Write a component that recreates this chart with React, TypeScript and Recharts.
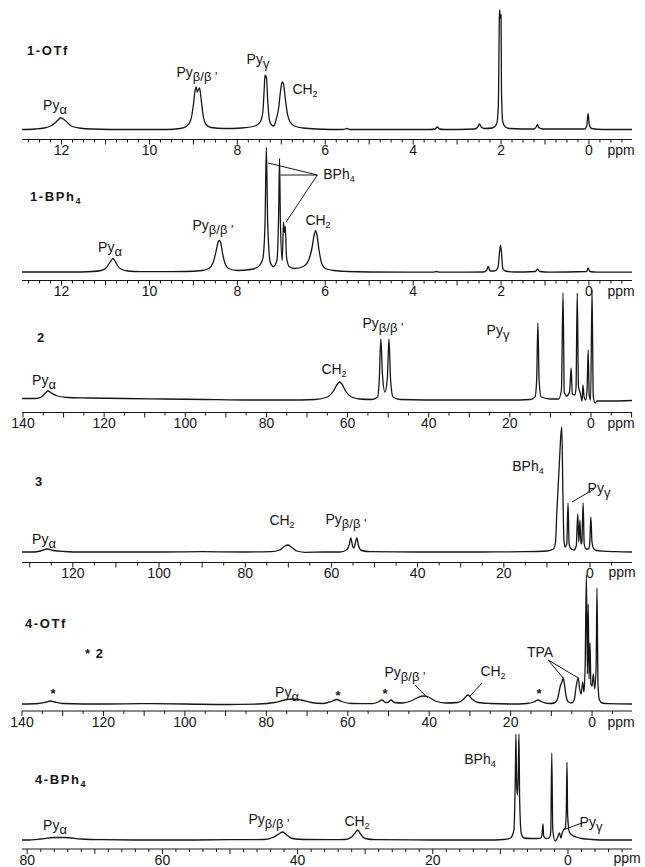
import React from 'react';
import { LineChart, Line, XAxis, YAxis, ReferenceLine } from 'recharts';

const INK = '#161616';
const FONT = '"Liberation Sans", Arial, Helvetica, sans-serif';

type Pt = [number, number];

// spectra as [ppm, intensity], left (high ppm) to right
const SPEC_1OTF: Pt[] = [
  [12.9, 0.5], [12.6, 1], [12.4, 2], [12.25, 4], [12.15, 7], [12.08, 10], [12.02, 12], [11.96, 11],
  [11.88, 8], [11.78, 4], [11.6, 2], [11.3, 1], [10.5, 0.5], [9.6, 0.5],
  [9.3, 1.5], [9.15, 4], [9.06, 10], [9.0, 25], [8.96, 40], [8.94, 43], [8.91, 38], [8.88, 41],
  [8.86, 42], [8.83, 33], [8.78, 15], [8.72, 6], [8.6, 2.5], [8.3, 1.5], [7.9, 2],
  [7.6, 4], [7.48, 8], [7.42, 18], [7.39, 40], [7.37, 55], [7.35, 52], [7.34, 54], [7.31, 30],
  [7.27, 10], [7.22, 5], [7.17, 4],
  [7.12, 10], [7.06, 22], [7.02, 38], [6.98, 48], [6.95, 46], [6.91, 32], [6.86, 16], [6.8, 8],
  [6.7, 4], [6.5, 2], [6.2, 1], [5.6, 0.5], [5.5, 1.5], [5.45, 0.5],
  [3.6, 0.5], [3.5, 1], [3.45, 3], [3.4, 1], [3.3, 0.5],
  [2.6, 1], [2.53, 3], [2.49, 6], [2.45, 3], [2.38, 1.5],
  [2.2, 2], [2.1, 6], [2.06, 25], [2.04, 110], [2.03, 120], [2.02, 112], [2.0, 115], [1.99, 40],
  [1.96, 8], [1.9, 3], [1.8, 1.5],
  [1.25, 1], [1.2, 3], [1.17, 5.5], [1.14, 2.5], [1.05, 1],
  [0.1, 1], [0.05, 4], [0.02, 16.5], [-0.01, 5], [-0.06, 1.5], [-0.3, 0.5], [-0.98, 0.5],
];

const SPEC_1BPH4: Pt[] = [
  [12.9, 0.5], [11.8, 0.5], [11.3, 1], [11.1, 2], [11.0, 4], [10.93, 8], [10.87, 12], [10.83, 14],
  [10.79, 12], [10.73, 7], [10.65, 3.5], [10.5, 1.5], [10.2, 0.8], [9.2, 1],
  [8.8, 2], [8.65, 4], [8.55, 10], [8.48, 22], [8.44, 30], [8.41, 32], [8.38, 30], [8.34, 20],
  [8.28, 9], [8.2, 4], [8.0, 2], [7.7, 3], [7.52, 6], [7.42, 14], [7.37, 50], [7.34, 125],
  [7.31, 50], [7.25, 10], [7.18, 6], [7.1, 12], [7.06, 60], [7.04, 114], [7.02, 50], [6.98, 12],
  [6.95, 50], [6.93, 40], [6.91, 46], [6.88, 15], [6.82, 6], [6.7, 4], [6.5, 6], [6.38, 12],
  [6.3, 25], [6.25, 38], [6.22, 42], [6.19, 38], [6.14, 22], [6.08, 9], [6.0, 4], [5.8, 2],
  [5.5, 1], [5.0, 0.5], [3.55, 0.3], [3.47, 1], [3.4, 0.3], [2.4, 0.5], [2.33, 2], [2.29, 6],
  [2.25, 1.5], [2.15, 1.5], [2.07, 5], [2.03, 22], [2.01, 27], [1.99, 20], [1.96, 4], [1.9, 1.5],
  [1.7, 0.5], [1.22, 1], [1.17, 3.5], [1.12, 1], [0.9, 0.3], [0.05, 1], [0.02, 4.5], [-0.02, 1],
  [-0.2, 0.3], [-0.98, 0.3],
];

const SPEC_2: Pt[] = [
  [140.25, 1.5], [137, 1.5], [135.5, 3], [134.5, 7], [133.8, 9], [133, 7], [131.5, 4], [129, 2.5],
  [124, 2], [115, 1.5], [105, 1], [95, 0.5], [85, 0], [75, 0], [68, 0.5], [65, 3], [63.5, 9],
  [62.5, 16], [62, 18], [61.4, 16], [60.5, 9], [59, 3], [57, 1], [54, 0.5], [52.6, 3], [52.2, 20],
  [51.8, 61], [51.4, 25], [50.8, 8], [50.2, 22], [49.8, 61], [49.4, 20], [48.8, 3], [47, 0.5],
  [35, 0], [20, 0], [15, 0.5], [13.8, 3], [13.4, 20], [13.1, 77], [12.8, 20], [12.3, 3], [10, 1],
  [8, 1], [7.3, 10], [6.9, 107], [6.6, 8], [6.0, 4], [5.3, 8], [4.9, 32], [4.6, 6], [4.0, 5],
  [3.7, 12], [3.4, 107], [3.1, 14], [2.6, 6], [2.4, 2], [2.2, -1], [2.0, 15], [1.7, 3], [1.3, 0],
  [1.0, 8], [0.7, 50], [0.45, 5], [0.1, 0], [-0.25, 110], [-0.55, 4], [-1.0, -3], [-1.5, -1],
  [-4, -1], [-10.1, -0.5],
];

const SPEC_3: Pt[] = [
  [131.8, 0], [129, 0], [127.5, 1], [126, 3], [124.5, 1.5], [122, 0.5], [118, 0], [100, 0],
  [90, 0.3], [80, 0], [74, 0.3], [72, 2], [70.8, 6], [70.1, 7], [69.3, 5], [68, 1], [66, -0.3],
  [62, 0], [58, 0], [56.5, 2], [55.9, 7], [55.5, 14], [55.1, 6], [54.8, 4], [54.5, 8], [54.1, 14],
  [53.7, 6], [53, 1.5], [51, 0.3], [40, 0], [25, 0], [15, 0.3], [10, 1], [8.5, 3], [8.0, 10],
  [7.7, 40], [7.4, 65], [7.1, 90], [6.8, 115], [6.55, 125], [6.3, 60], [6.05, 12], [5.8, 5],
  [5.4, 8], [5.1, 49], [4.85, 8], [4.4, 3], [3.7, 2], [3.2, 6], [2.85, 38], [2.6, 10], [2.35, 32],
  [2.1, 8], [1.9, 10], [1.6, 49], [1.35, 8], [0.9, 3], [0.3, 3], [0.05, 10], [-0.2, 35],
  [-0.45, 10], [-0.9, 3], [-1.5, 1.5], [-3, 0.8], [-6, 0.3], [-9.74, 0],
];

const SPEC_4OTF: Pt[] = [
  [140, 0], [136, 0.5], [134, 2], [133, 3], [132, 2], [130, 0.5], [120, 0], [110, 0.3], [100, 0],
  [90, -0.5], [82, 0], [78, 1.5], [75.5, 4], [73.5, 5], [71.5, 4], [69, 1.5], [66, 0.5], [64, 2.5],
  [62.7, 4.5], [61.5, 2.5], [59, 0.5], [54, 0.3], [52.5, 2], [51.6, 4], [50.7, 1.5], [50.2, 1.5],
  [49.4, 4], [48.5, 1.5], [46.5, 1], [44.5, 3], [43, 6], [41.5, 8], [40.2, 7], [38.5, 3], [36, 1],
  [33, 1.5], [31.5, 5], [30.5, 9], [29.5, 5], [28, 1.5], [25, 0.5], [20, 0], [16, 0.5], [14.3, 2],
  [13.3, 4], [12.3, 2], [10.5, 0.5], [9.3, 1], [8.5, 5], [7.8, 18], [7.4, 22], [7.1, 26], [6.8, 20],
  [6.4, 8], [5.8, 2], [5.0, 1], [4.4, 4], [3.9, 18], [3.4, 26], [3.1, 16], [2.7, 10], [2.3, 22],
  [2.0, 12], [1.7, 40], [1.4, 129], [1.15, 30], [0.95, 100], [0.75, 25], [0.5, 61], [0.3, 20],
  [0.0, 18], [-0.3, 30], [-0.65, 15], [-1.0, 40], [-1.2, 116], [-1.45, 20], [-1.8, 4], [-2.5, 1],
  [-4, 0.3], [-9.8, 0],
];

const SPEC_4BPH4: Pt[] = [
  [80.77, 0], [80, 0], [78, 1], [76, 2.5], [74.5, 2.5], [72, 1], [69, 0.3], [64, 0], [56, 0],
  [50, 0.3], [45, 0.5], [43.5, 3], [42.8, 6], [42.2, 8], [41.6, 5], [40.8, 1.5], [39, 0.5],
  [35, 0.3], [33, 0.5], [32, 3], [31.5, 7], [31.1, 10], [30.7, 6], [30, 1.5], [28.5, 0.3], [20, 0],
  [12, 0], [9.5, 0.5], [8.5, 2], [8.0, 10], [7.8, 60], [7.7, 106], [7.6, 55], [7.47, 45],
  [7.35, 70], [7.25, 106], [7.15, 40], [6.9, 6], [6.5, 2], [5.5, 1.5], [4.5, 1.5], [4.0, 2],
  [3.8, 8], [3.7, 16], [3.6, 4], [3.3, 1.5], [2.8, 2], [2.55, 8], [2.4, 87], [2.25, 10],
  [1.9, -1], [1.6, 1.5], [1.25, 7], [1.05, 2], [0.85, 7], [0.6, 11], [0.4, 12], [0.25, 30],
  [0.15, 78], [0.05, 25], [-0.2, 8], [-0.6, 5], [-1.2, 3], [-2, 1.5], [-3.5, 0.5], [-6, 0],
  [-9.47, 0],
];

// axis tick labels
const H_LABELS = [12, 10, 8, 6, 4, 2, 0];
const C140_LABELS = [140, 120, 100, 80, 60, 40, 20, 0];
const C120_LABELS = [120, 100, 80, 60, 40, 20, 0];
const C80_LABELS = [80, 60, 40, 20, 0];

function tickRange(lo: number, hi: number, step: number) {
  const out: number[] = [];
  for (let k = Math.ceil(lo / step - 1e-9); k <= Math.floor(hi / step + 1e-9); k++) {
    out.push(+(k * step).toFixed(4));
  }
  return out;
}

function makeTick(labels: number[], major: number) {
  return (props: any) => {
    const { x, y, payload } = props;
    const v = payload.value as number;
    const isMajor = Math.abs(v / major - Math.round(v / major)) < 1e-6;
    const isLabel = labels.some((l) => Math.abs(l - v) < 1e-6);
    return (
      <g>
        <line x1={x} x2={x} y1={y} y2={y + (isMajor ? 5 : 3)} stroke={INK} strokeWidth={1} />
        {isLabel && (
          <text x={x} y={y + 10.5} dy="0.36em" textAnchor="middle" fontSize={14} fill={INK} fontFamily={FONT}>
            {v}
          </text>
        )}
      </g>
    );
  };
}

type Seg = [[number, number], [number, number]];

type Panel = {
  spec: Pt[];
  x: [number, number];
  y: [number, number];
  top: number;
  bottom: number;
  labels: number[];
  major: number;
  minor: number;
  leaders?: Seg[];
};

const PANELS: Panel[] = [
  { spec: SPEC_1OTF, x: [-0.98, 12.9], y: [-9.5, 125], top: 5, bottom: 139.5, labels: H_LABELS, major: 1, minor: 0.25 },
  {
    spec: SPEC_1BPH4, x: [-0.98, 12.9], y: [-8, 129.5], top: 143, bottom: 280.5, labels: H_LABELS, major: 1, minor: 0.25,
    leaders: [
      [[7.3, 109.5], [6.18, 97.5]],
      [[7.02, 97.5], [6.18, 97.5]],
      [[6.89, 50.5], [6.18, 97.5]],
    ],
  },
  { spec: SPEC_2, x: [-10.1, 140.25], y: [-12.5, 115], top: 285, bottom: 412.5, labels: C140_LABELS, major: 10, minor: 5 },
  {
    spec: SPEC_3, x: [-9.74, 131.8], y: [-10.5, 130], top: 422, bottom: 562.5, labels: C120_LABELS, major: 10, minor: 5,
    leaders: [[[4.18, 50], [-0.93, 63]]],
  },
  {
    spec: SPEC_4OTF, x: [-9.8, 140], y: [-7, 134], top: 570, bottom: 711, labels: C140_LABELS, major: 10, minor: 5,
    leaders: [
      [[43.5, 19], [40.3, 6]],
      [[27.0, 21], [30.2, 7]],
      [[10.8, 44], [7.1, 26]],
      [[10.8, 44], [3.4, 26]],
    ],
  },
  {
    spec: SPEC_4BPH4, x: [-9.47, 80.77], y: [-9, 112], top: 728, bottom: 849, labels: C80_LABELS, major: 10, minor: 2,
    leaders: [[[0.74, 10], [-2.07, 17]]],
  },
];

type Note = { main: string; sub?: string; cx?: number; left?: number; cy: number; bold?: boolean; size?: number; subSize?: number; spacing?: number };

const NAME = { bold: true, size: 13, subSize: 9, spacing: 1.6 };
const PYB = "β/β '";

const NOTES: Note[] = [
  { main: '1-OTf', left: 27, cy: 50, ...NAME },
  { main: 'Py', sub: 'α', cx: 55, cy: 105 },
  { main: 'Py', sub: PYB, cx: 197, cy: 72 },
  { main: 'Py', sub: 'γ', cx: 258, cy: 59 },
  { main: 'CH', sub: '2', cx: 305, cy: 89, subSize: 9 },

  { main: '1-BPh', sub: '4', left: 30, cy: 196, ...NAME },
  { main: 'Py', sub: 'α', cx: 110, cy: 247 },
  { main: 'Py', sub: PYB, cx: 213, cy: 225 },
  { main: 'BPh', sub: '4', cx: 339, cy: 174, subSize: 9 },
  { main: 'CH', sub: '2', cx: 318, cy: 220, subSize: 9 },

  { main: '2', left: 37, cy: 337, bold: true, size: 13 },
  { main: 'Py', sub: 'α', cx: 44, cy: 380 },
  { main: 'CH', sub: '2', cx: 334, cy: 369, subSize: 9 },
  { main: 'Py', sub: PYB, cx: 383, cy: 323 },
  { main: 'Py', sub: 'γ', cx: 498, cy: 330 },

  { main: '3', left: 35, cy: 481, bold: true, size: 13 },
  { main: 'Py', sub: 'α', cx: 44, cy: 539 },
  { main: 'CH', sub: '2', cx: 282, cy: 520, subSize: 9 },
  { main: 'Py', sub: PYB, cx: 346, cy: 519 },
  { main: 'BPh', sub: '4', cx: 528, cy: 466, subSize: 9 },
  { main: 'Py', sub: 'γ', cx: 599, cy: 488 },

  { main: '4-OTf', left: 25, cy: 623, ...NAME },
  { main: '* 2', left: 85, cy: 653, bold: true, size: 13, spacing: 1 },
  { main: '*', cx: 53, cy: 693, bold: true, size: 13 },
  { main: 'Py', sub: 'α', cx: 287, cy: 692 },
  { main: '*', cx: 338, cy: 695, bold: true, size: 13 },
  { main: '*', cx: 385, cy: 693, bold: true, size: 13 },
  { main: 'Py', sub: PYB, cx: 405, cy: 672 },
  { main: 'CH', sub: '2', cx: 493, cy: 671, subSize: 9 },
  { main: '*', cx: 539, cy: 693, bold: true, size: 13 },
  { main: 'TPA', cx: 540, cy: 652 },

  { main: '4-BPh', sub: '4', left: 35, cy: 779, ...NAME },
  { main: 'Py', sub: 'α', cx: 55, cy: 825 },
  { main: 'Py', sub: PYB, cx: 269, cy: 819 },
  { main: 'CH', sub: '2', cx: 357, cy: 821, subSize: 9 },
  { main: 'BPh', sub: '4', cx: 480, cy: 759, subSize: 9 },
  { main: 'Py', sub: 'γ', cx: 591, cy: 822 },

  { main: 'ppm', cx: 621, cy: 150 },
  { main: 'ppm', cx: 621, cy: 291 },
  { main: 'ppm', cx: 621, cy: 423 },
  { main: 'ppm', cx: 622, cy: 572 },
  { main: 'ppm', cx: 621, cy: 722 },
  { main: 'ppm', cx: 627, cy: 858 },
];

function NoteText({ n }: { n: Note }) {
  const size = n.size ?? 14;
  const style: React.CSSProperties = {
    position: 'absolute',
    left: n.left ?? n.cx,
    top: n.cy,
    transform: n.left != null ? 'translateY(-50%)' : 'translate(-50%, -50%)',
    whiteSpace: 'nowrap',
    lineHeight: 1,
    fontSize: size,
    fontWeight: n.bold ? 700 : 400,
    letterSpacing: n.spacing ?? 0,
    color: INK,
  };
  return (
    <div style={style}>
      {n.main}
      {n.sub && (
        <span style={{ fontSize: n.subSize ?? 13, position: 'relative', top: '0.32em' }}>{n.sub}</span>
      )}
    </div>
  );
}

function Spectrum({ p }: { p: Panel }) {
  const data = p.spec.map(([x, y]) => ({ x, y }));
  const height = p.bottom - p.top + 20;
  return (
    <div style={{ position: 'absolute', left: 0, top: p.top }}>
      <LineChart width={645} height={height} data={data} margin={{ top: 0, right: 13, bottom: 0, left: 22 }}>
        <XAxis
          type="number"
          dataKey="x"
          domain={p.x}
          reversed
          allowDataOverflow
          ticks={tickRange(p.x[0], p.x[1], p.minor)}
          interval={0}
          tickSize={0}
          tickMargin={0}
          tickLine={false}
          axisLine={{ stroke: INK, strokeWidth: 1.2 }}
          tick={makeTick(p.labels, p.major)}
          height={20}
        />
        <YAxis type="number" domain={p.y} allowDataOverflow hide />
        <Line type="monotone" dataKey="y" stroke={INK} strokeWidth={1.3} dot={false} isAnimationActive={false} />
        {(p.leaders ?? []).map((s, i) => (
          <ReferenceLine
            key={i}
            segment={[{ x: s[0][0], y: s[0][1] }, { x: s[1][0], y: s[1][1] }]}
            stroke={INK}
            strokeWidth={1}
            ifOverflow="visible"
          />
        ))}
      </LineChart>
    </div>
  );
}

export default function App() {
  return (
    <div style={{ position: 'absolute', left: 0, top: 0, width: 645, height: 867, background: '#fff', fontFamily: FONT }}>
      {PANELS.map((p, i) => (
        <Spectrum key={i} p={p} />
      ))}
      {NOTES.map((n, i) => (
        <NoteText key={i} n={n} />
      ))}
    </div>
  );
}
